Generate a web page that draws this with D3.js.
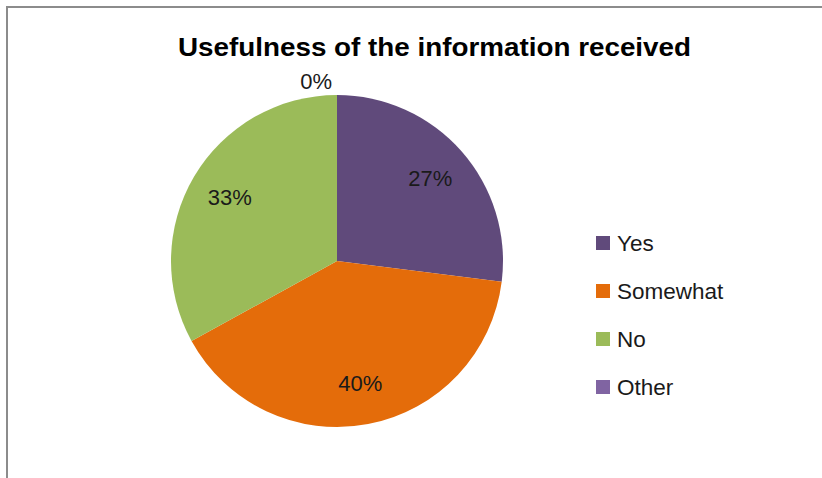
<!DOCTYPE html>
<html>
<head>
<meta charset="utf-8">
<script src="https://cdn.jsdelivr.net/npm/d3@7"></script>
<style>
  html, body { margin: 0; padding: 0; background: #fff; }
  svg { display: block; font-family: "Liberation Sans", Arial, sans-serif; }
</style>
</head>
<body>
<svg id="chart" width="822" height="478"></svg>
<script>
// Survey answers and their shares (percent)
const categories = ["Yes", "Somewhat", "No", "Other"];
const values = [27, 40, 33, 0];
const colors = ["#604A7B", "#E46C0A", "#9BBB59", "#8064A2"];
const title = "Usefulness of the information received";

const svg = d3.select("#chart");
const W = 822, H = 478;

// Chart frame (top and left edges)
svg.append("path")
  .attr("d", `M7,${H} L7,7 L${W},7`)
  .attr("fill", "none")
  .attr("stroke", "#8c8c8c")
  .attr("stroke-width", 2);

// Title
svg.append("text")
  .attr("x", 434.5)
  .attr("y", 56)
  .attr("text-anchor", "middle")
  .attr("font-weight", "bold")
  .attr("font-size", 26)
  .attr("fill", "#000")
  .attr("textLength", 513)
  .attr("lengthAdjust", "spacingAndGlyphs")
  .text(title);

// Pie
const cx = 337, cy = 261, r = 166;
const data = categories.map((c, i) => ({ cat: c, value: values[i], color: colors[i] }));

const pie = d3.pie().value(d => d.value).sort(null);
const arcs = pie(data);
const arc = d3.arc().innerRadius(0).outerRadius(r);
const labelArc = d3.arc().innerRadius(r * 0.75).outerRadius(r * 0.75);
const outerArc = d3.arc().innerRadius(r + 14).outerRadius(r + 14);

const g = svg.append("g").attr("transform", `translate(${cx},${cy})`);

g.selectAll("path.slice")
  .data(arcs)
  .join("path")
  .attr("class", "slice")
  .attr("d", arc)
  .attr("fill", d => d.data.color);

// Percentage labels: inside for real slices, just outside for empty ones
g.selectAll("text.lbl")
  .data(arcs)
  .join("text")
  .attr("class", "lbl")
  .attr("font-size", 22)
  .attr("fill", "#1a1a1a")
  .attr("dy", "0.35em")
  .each(function(d) {
    const t = d3.select(this);
    if (d.data.value > 0) {
      const [x, y] = labelArc.centroid(d);
      t.attr("x", x).attr("y", y).attr("text-anchor", "middle");
    } else {
      const [x, y] = outerArc.centroid(d);
      t.attr("x", x - 5).attr("y", y).attr("text-anchor", "end");
    }
  })
  .text(d => d.data.value + "%");

// Legend
const legendY = d3.scalePoint()
  .domain(categories)
  .range([243, 387]);

const legend = svg.append("g")
  .selectAll("g")
  .data(data)
  .join("g")
  .attr("transform", d => `translate(596,${legendY(d.cat)})`);

legend.append("rect")
  .attr("x", 0)
  .attr("y", -7)
  .attr("width", 14)
  .attr("height", 14)
  .attr("fill", d => d.color);

legend.append("text")
  .attr("x", 21)
  .attr("dy", "0.36em")
  .attr("font-size", 22.5)
  .attr("fill", "#1a1a1a")
  .text(d => d.cat);
</script>
</body>
</html>
